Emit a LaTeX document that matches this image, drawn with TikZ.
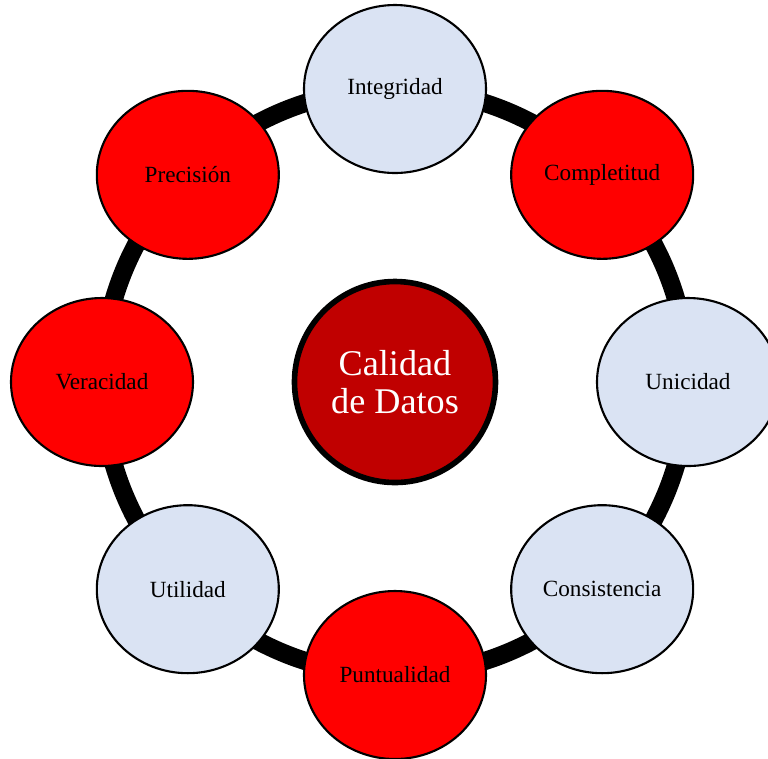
\documentclass[tikz,border=0pt]{standalone}
\usepackage{fontspec}
\setmainfont{Liberation Serif}
\usetikzlibrary{shapes.geometric}
\definecolor{paleblue}{HTML}{DAE3F3}
\definecolor{brightred}{HTML}{FF0000}
\definecolor{deepred}{HTML}{C00000}
\tikzset{
  ring/.style={line width=5.2pt, draw=black},
  facet/.style={ellipse, draw=black, line width=0.6pt, minimum width=1.82cm,
    minimum height=1.68cm, inner sep=0pt, font=\fontsize{6.6}{8}\selectfont, text=black},
  bluefacet/.style={facet, fill=paleblue},
  redfacet/.style={facet, fill=brightred},
  hub/.style={circle, draw=black, line width=1.6pt, fill=deepred, minimum size=2.01cm,
    inner sep=0pt, align=center, text=white, font=\fontsize{10.3}{10.9}\selectfont}
}
\begin{document}
\begin{tikzpicture}
\useasboundingbox (-3.95,-3.76) rectangle (3.73,3.82);
\coordinate (o) at (0,0);
% the ring that links all the facets
\draw[ring] (o) circle (2.93);
% central concept
\node[hub] (hub) at (o) {Calidad\\de Datos};
% facets around the ring
\node[bluefacet] (integ) at (90:2.93) {Integridad};
\node[redfacet]  (compl) at (45:2.93) {Completitud};
\node[bluefacet] (unic)  at (0:2.93) {Unicidad};
\node[bluefacet] (cons)  at (-45:2.93) {Consistencia};
\node[redfacet]  (punt)  at (-90:2.93) {Puntualidad};
\node[bluefacet] (util)  at (-135:2.93) {Utilidad};
\node[redfacet]  (verac) at (180:2.93) {Veracidad};
\node[redfacet]  (prec)  at (135:2.93) {Precisión};
\end{tikzpicture}
\end{document}
